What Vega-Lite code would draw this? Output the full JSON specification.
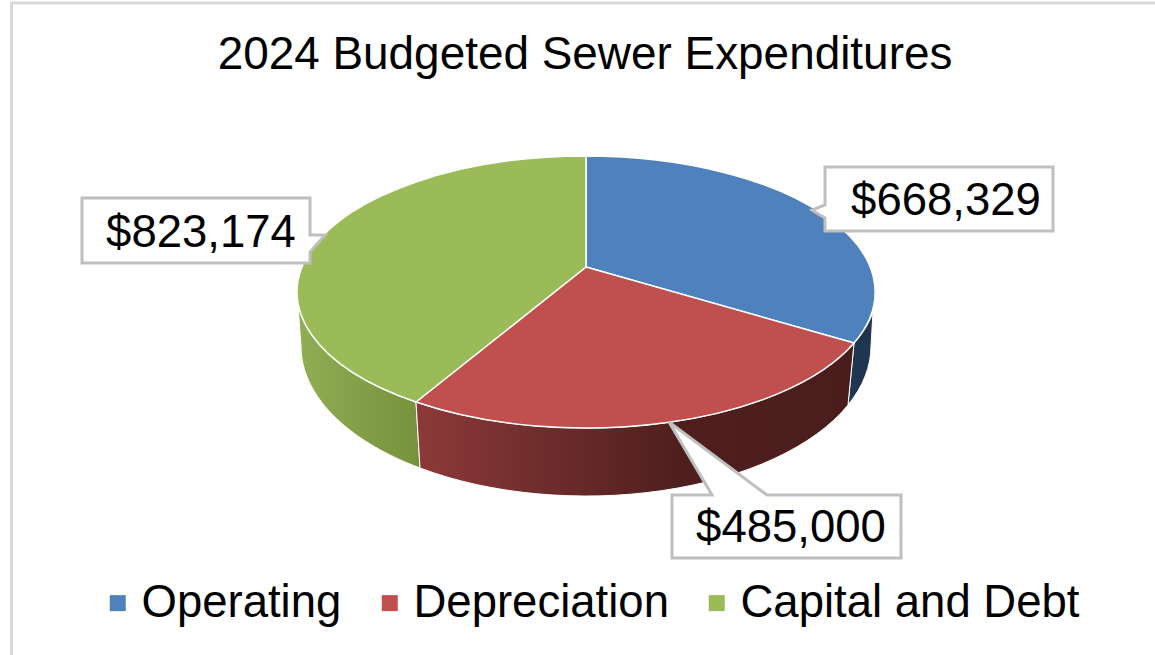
{
  "$schema": "https://vega.github.io/schema/vega-lite/v6.json",
  "width": 1155,
  "height": 655,
  "padding": 0,
  "autosize": "none",
  "background": "white",
  "title": {"text": "2024 Budgeted Sewer Expenditures", "font": "Liberation Sans", "fontSize": 45.9, "fontWeight": "normal", "color": "#000000", "anchor": "middle", "frame": "group", "offset": 0, "dx": 7.5, "dy": 118, "baseline": "alphabetic"},
  "config": {"view": {"stroke": null}, "font": "Liberation Sans"},
  "datasets": {
    "slices": [
      {"category": "Operating", "value": 668329},
      {"category": "Depreciation", "value": 485000},
      {"category": "Capital and Debt", "value": 823174}
    ]
  },
  "layer": [
    {
      "data": {"values": [{"part": "chart frame"}]},
      "mark": {"type": "point", "shape": "M-566 327.5 L-566 -324.5 L577.5 -324.5", "size": 4, "filled": false, "stroke": "#d9d9d9", "strokeWidth": 3, "opacity": 1},
      "encoding": {}
    },
    {
      "data": {"name": "slices"},
      "transform": [{"filter": "datum.category === 'Capital and Debt'"}],
      "mark": {"type": "point", "shape": "M-280.5 -35.5 A289 136 0 0 0 -161.5 74.5 L-157.5 140.5 A285 150 0 0 1 -276.5 18.5 Z", "size": 4, "filled": true, "opacity": 1, "stroke": "white", "strokeWidth": 1,
        "fill": {"gradient": "linear", "x1": 0, "y1": 0, "x2": 1, "y2": 0, "stops": [{"offset": 0, "color": "#90ae54"}, {"offset": 1, "color": "#76923c"}]}},
      "encoding": {}
    },
    {
      "data": {"name": "slices"},
      "transform": [{"filter": "datum.category === 'Operating'"}],
      "mark": {"type": "point", "shape": "M295.5 -15.5 A289 136 0 0 1 276.5 15.5 L270.5 77.5 A285 150 0 0 0 293.5 18.5 Z", "size": 4, "filled": true, "opacity": 1, "stroke": "white", "strokeWidth": 1, "fill": "#1f3651"},
      "encoding": {}
    },
    {
      "data": {"name": "slices"},
      "transform": [{"filter": "datum.category === 'Depreciation'"}],
      "mark": {"type": "point", "shape": "M276.5 15.5 A289 136 0 0 1 -161.5 74.5 L-157.5 140.5 A285 150 0 0 0 270.5 77.5 Z", "size": 4, "filled": true, "opacity": 1, "stroke": "white", "strokeWidth": 1,
        "fill": {"gradient": "linear", "x1": 0, "y1": 0, "x2": 1, "y2": 0, "stops": [{"offset": 0, "color": "#8c3a39"}, {"offset": 0.6, "color": "#4f1f1e"}, {"offset": 1, "color": "#4a1d1c"}]}},
      "encoding": {}
    },
    {
      "data": {"name": "slices"},
      "mark": {"type": "point", "size": 4, "filled": true, "opacity": 1, "stroke": "white", "strokeWidth": 1.5},
      "encoding": {
        "shape": {"field": "category", "type": "nominal", "legend": null,
          "scale": {"domain": ["Operating", "Depreciation", "Capital and Debt"],
            "range": ["M8.5 -60.5 L8.5 -171.5 A289 136 0 0 1 276.5 15.5 Z", "M8.5 -60.5 L276.5 15.5 A289 136 0 0 1 -161.5 74.5 Z", "M8.5 -60.5 L-161.5 74.5 A289 136 0 0 1 8.5 -171.5 Z"]}},
        "color": {"field": "category", "type": "nominal",
          "scale": {"domain": ["Operating", "Depreciation", "Capital and Debt"], "range": ["#4f81bd", "#c0504d", "#9bbb59"]},
          "legend": {"title": null, "orient": "none", "legendX": 95, "legendY": 580, "direction": "horizontal", "columns": 3, "symbolType": "square", "symbolSize": 256, "symbolStrokeWidth": 0, "symbolOpacity": 1, "labelFont": "Liberation Sans", "labelFontSize": 45.5, "labelColor": "#000000", "labelOffset": 1, "columnPadding": 25, "labelLimit": 500,
            "encode": {"symbols": {"update": {"shape": {"value": "square"}}}}}
        }
      }
    },
    {
      "data": {"name": "slices"},
      "mark": {"type": "point", "size": 4, "filled": true, "opacity": 1, "fill": "white", "stroke": "#bfbfbf", "strokeWidth": 3},
      "encoding": {
        "shape": {"field": "category", "type": "nominal", "legend": null,
          "scale": {"domain": ["Operating", "Depreciation", "Capital and Debt"],
            "range": ["M247.5 -160.5 L475.5 -160.5 L475.5 -96.5 L247.5 -96.5 L247.5 -109.5 L234.5 -117.5 L247.5 -122.5 Z", "M94.5 167.5 L134.5 167.5 L91.5 94.5 L189.5 167.5 L323.5 167.5 L323.5 230.5 L94.5 230.5 Z", "M-495.5 -129.5 L-267.5 -129.5 L-267.5 -92.5 L-252.5 -92.5 L-267.5 -75.5 L-267.5 -64.5 L-495.5 -64.5 Z"]}}
      }
    },
    {
      "data": {"name": "slices"},
      "mark": {"type": "text", "font": "Liberation Sans", "fontSize": 45.5, "color": "#000000", "align": "center", "baseline": "alphabetic"},
      "encoding": {
        "x": {"field": "value", "type": "quantitative", "axis": null, "scale": {"domain": [485000, 668329, 823174], "range": [791, 946, 201], "nice": false, "zero": false}},
        "y": {"field": "value", "type": "quantitative", "axis": null, "scale": {"domain": [485000, 668329, 823174], "range": [542, 215, 247], "nice": false, "zero": false}},
        "text": {"field": "value", "type": "quantitative", "format": "$,.0f"}
      }
    }
  ],
  "resolve": {"scale": {"shape": "independent"}}
}
